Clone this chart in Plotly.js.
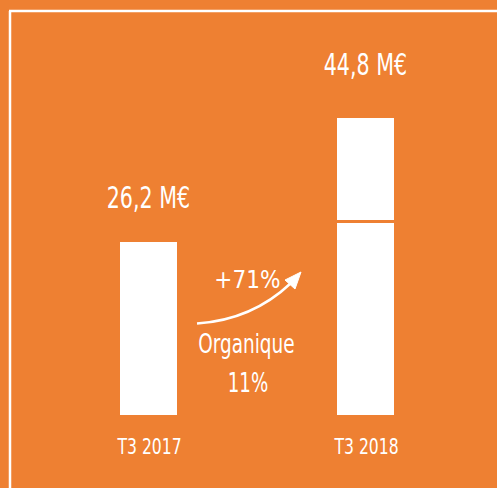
<!DOCTYPE html>
<html>
<head>
<meta charset="utf-8">
<script src="https://cdn.plot.ly/plotly-3.0.1.min.js"></script>
<style>html,body{margin:0;padding:0;background:#EE8032;}#chart{width:497px;height:488px;}</style>
</head>
<body>
<div id="chart"></div>
<script>
// Data
const categories = ["T3 2017", "T3 2018"];
const baseValues = [26.2, 29.1];      // chiffre d'affaires (organique pour 2018)
const addedValues = [null, 15.7];     // part complémentaire 2018
const totalLabels = ["26,2 M€", "44,8 M€"];
const growthLabel = "+71%";
const organicLabel = "Organique";
const organicValue = "11%";

const ORANGE = "#EE8032";
const WHITE = "#FFFFFF";
const FONT = "DejaVu Sans Condensed, Liberation Sans Narrow, sans-serif";

const W = 497, H = 488;
const M = {l: 40, r: 23, t: 16, b: 72};
const PW = W - M.l - M.r, PH = H - M.t - M.b;
const px = x => (x - M.l) / PW;
const py = y => (H - M.b - y) / PH;

const totals = baseValues.map((v, i) => v + (addedValues[i] || 0));

const traces = [
  {type: "bar", x: categories, y: baseValues, width: 0.274,
   marker: {color: WHITE, line: {color: ORANGE, width: 2.5}}, hoverinfo: "skip"},
  {type: "bar", x: categories, y: addedValues, width: 0.274,
   marker: {color: WHITE, line: {color: ORANGE, width: 2.5}}, hoverinfo: "skip"}
];

const annotations = [];
const scales = [];
const labelShift = [44, 53];
categories.forEach((c, i) => {
  annotations.push({x: c, y: totals[i], xref: "x", yref: "y", text: totalLabels[i], showarrow: false,
    yanchor: "middle", yshift: labelShift[i], font: {family: FONT, size: 31, color: WHITE}});
  scales.push(0.74);
});
categories.forEach((c, i) => {
  annotations.push({x: c, y: py(446), xref: "x", yref: "paper", text: c, showarrow: false,
    yanchor: "middle", font: {family: FONT, size: 22, color: WHITE}});
  scales.push(0.79);
});
annotations.push(
  {x: px(247), y: py(280), xref: "paper", yref: "paper", text: growthLabel, showarrow: false,
   xanchor: "center", yanchor: "middle", font: {family: FONT, size: 25, color: WHITE}},
  {x: px(246.5), y: py(343), xref: "paper", yref: "paper", text: organicLabel, showarrow: false,
   xanchor: "center", yanchor: "middle", font: {family: FONT, size: 27, color: WHITE}},
  {x: px(247.5), y: py(382), xref: "paper", yref: "paper", text: organicValue, showarrow: false,
   xanchor: "center", yanchor: "middle", font: {family: FONT, size: 27, color: WHITE}}
);
scales.push(0.96, 0.76, 0.75);

const P = (x, y) => px(x) + "," + py(y);
const shapes = [
  {type: "line", xref: "paper", yref: "paper", x0: px(10), y0: py(11), x1: px(10), y1: py(488),
   line: {color: WHITE, width: 2.5}},
  {type: "line", xref: "paper", yref: "paper", x0: px(9), y0: py(11), x1: px(497), y1: py(11),
   line: {color: WHITE, width: 2.5}},
  {type: "path", xref: "paper", yref: "paper",
   path: "M" + P(197, 323.5) + " Q" + P(252, 320) + " " + P(291, 283),
   line: {color: WHITE, width: 2.5}},
  {type: "path", xref: "paper", yref: "paper",
   path: "M" + P(301, 272) + " L" + P(285, 280) + " L" + P(295, 289) + " Z",
   fillcolor: WHITE, line: {color: WHITE, width: 1}}
];

const layout = {
  width: W, height: H, margin: M,
  paper_bgcolor: ORANGE, plot_bgcolor: ORANGE,
  showlegend: false, barmode: "stack", hovermode: false,
  xaxis: {type: "category", range: [-0.5, 1.5], showgrid: false, zeroline: false, showline: false,
          ticks: "", showticklabels: false},
  yaxis: {range: [0, 400 / 6.68], visible: false, showgrid: false, zeroline: false},
  annotations: annotations, shapes: shapes
};

Plotly.newPlot("chart", traces, layout, {displayModeBar: false, staticPlot: true}).then(gd => {
  gd.querySelectorAll(".annotation").forEach((a, i) => {
    const t = a.querySelector(".annotation-text");
    if (t && scales[i]) {
      t.style.transformBox = "fill-box";
      t.style.transformOrigin = "center";
      t.style.transform = "scaleX(" + scales[i] + ")";
    }
  });
});
</script>
</body>
</html>
